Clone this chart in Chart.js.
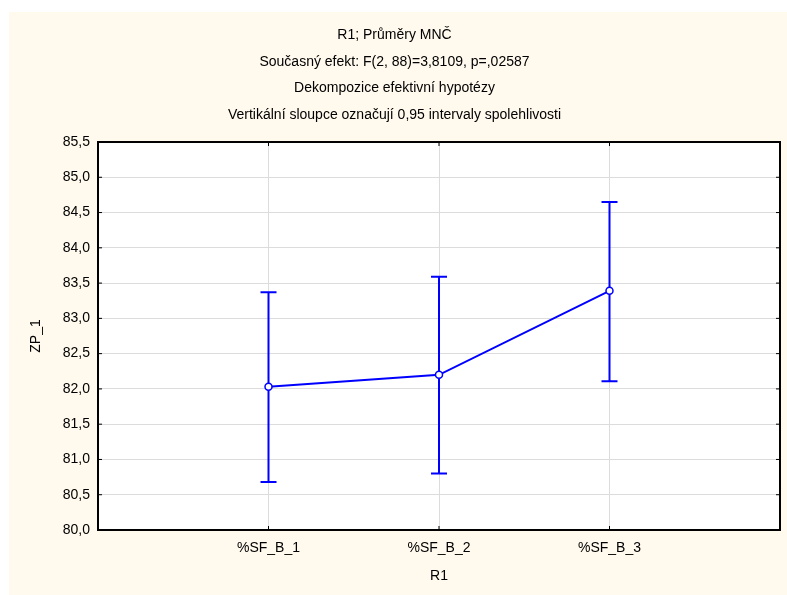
<!DOCTYPE html>
<html>
<head>
<meta charset="utf-8">
<script src="https://cdn.jsdelivr.net/npm/chart.js@4/dist/chart.umd.min.js"></script>
<style>
  html, body { margin: 0; padding: 0; background: #fff; }
  #wrap { width: 787px; height: 595px; }
</style>
</head>
<body>
<div id="wrap"><canvas id="myChart" width="787" height="595"></canvas></div>
<script>
const CATEGORIES = ['%SF_B_1', '%SF_B_2', '%SF_B_3'];
const MEANS = [82.03, 82.20, 83.39];
const UPPER = [83.37, 83.59, 84.65];
const LOWER = [80.68, 80.80, 82.11];
const TITLE_LINES = [
  'R1; Průměry MNČ',
  'Současný efekt: F(2, 88)=3,8109, p=,02587',
  'Dekompozice efektivní hypotézy',
  'Vertikální sloupce označují 0,95 intervaly spolehlivosti',
];

const BLUE = '#0000FF';
const FONT = 'Liberation Sans';

const fmt = (v) => v.toFixed(1).replace('.', ',');

// cream frame behind everything
const background = {
  id: 'background',
  beforeDraw(chart) {
    const { ctx } = chart;
    ctx.save();
    ctx.fillStyle = '#FFF9EE';
    ctx.fillRect(9, 12, chart.width - 9, chart.height - 12);
    const a = chart.chartArea;
    ctx.fillStyle = '#FFFFFF';
    ctx.fillRect(a.left, a.top, a.right - a.left, a.bottom - a.top);
    ctx.restore();
  },
};

// confidence interval whiskers
const errorBars = {
  id: 'errorBars',
  beforeDatasetsDraw(chart) {
    const { ctx } = chart;
    const xs = chart.scales.x;
    const ys = chart.scales.y;
    ctx.save();
    ctx.strokeStyle = BLUE;
    ctx.lineWidth = 2;
    CATEGORIES.forEach((c, i) => {
      const x = xs.getPixelForValue(i + 1);
      const yTop = ys.getPixelForValue(UPPER[i]);
      const yBot = ys.getPixelForValue(LOWER[i]);
      ctx.beginPath();
      ctx.moveTo(x, yTop);
      ctx.lineTo(x, yBot);
      ctx.moveTo(x - 8, yTop);
      ctx.lineTo(x + 8, yTop);
      ctx.moveTo(x - 8, yBot);
      ctx.lineTo(x + 8, yBot);
      ctx.stroke();
    });
    ctx.restore();
  },
};

// frame + small inward ticks
const frame = {
  id: 'frame',
  afterDraw(chart) {
    const { ctx } = chart;
    const a = chart.chartArea;
    ctx.save();
    ctx.strokeStyle = '#000';
    ctx.lineWidth = 1;
    chart.scales.y.ticks.forEach((t) => {
      const y = chart.scales.y.getPixelForValue(t.value);
      ctx.beginPath();
      ctx.moveTo(a.left, y); ctx.lineTo(a.left + 4, y);
      ctx.moveTo(a.right, y); ctx.lineTo(a.right - 4, y);
      ctx.stroke();
    });
    chart.scales.x.ticks.forEach((t) => {
      const x = chart.scales.x.getPixelForValue(t.value);
      ctx.beginPath();
      ctx.moveTo(x, a.bottom); ctx.lineTo(x, a.bottom - 4);
      ctx.moveTo(x, a.top); ctx.lineTo(x, a.top + 4);
      ctx.stroke();
    });
    ctx.lineWidth = 2;
    ctx.strokeRect(a.left, a.top, a.right - a.left, a.bottom - a.top);
    ctx.restore();
  },
};

Chart.defaults.font.family = FONT;
Chart.defaults.color = '#000';

const ctx = document.getElementById('myChart');

const myChart = new Chart(ctx, {
  type: 'line',
  data: {
    datasets: [{
      label: 'ZP_1',
      data: MEANS.map((m, i) => ({ x: i + 1, y: m })),
      borderColor: BLUE,
      borderWidth: 2,
      pointRadius: 3.5,
      pointBorderWidth: 1.5,
      pointBackgroundColor: '#FFFFFF',
      pointBorderColor: BLUE,
      tension: 0,
    }],
  },
  options: {
    responsive: false,
    animation: false,
    layout: {
      padding: { left: 9, right: 7, top: 0, bottom: 0 },
    },
    plugins: {
      legend: { display: false },
      tooltip: { enabled: false },
      title: {
        display: true,
        text: TITLE_LINES,
        color: '#000',
        font: { family: FONT, size: 14, weight: 'normal', lineHeight: 1.893 },
        padding: { top: 22, bottom: 14 },
      },
    },
    scales: {
      x: {
        type: 'linear',
        min: 0,
        max: 4,
        afterBuildTicks(scale) {
          scale.ticks = CATEGORIES.map((c, i) => ({ value: i + 1 }));
        },
        afterFit(scale) { scale.height = 65; },
        ticks: {
          callback: (v) => CATEGORIES[v - 1] ?? '',
          font: { size: 14 },
          padding: 10,
          maxRotation: 0,
        },
        grid: { color: '#DCDCDC', lineWidth: 1, drawTicks: false },
        border: { display: false },
        title: {
          display: true,
          text: 'R1',
          font: { size: 14 },
          padding: { top: 0, bottom: 10 },
        },
      },
      y: {
        min: 80,
        max: 85.5,
        afterFit(scale) { scale.width = 89; },
        ticks: {
          stepSize: 0.5,
          callback: (v) => fmt(v),
          font: { size: 14 },
          padding: 8,
        },
        grid: { color: '#DCDCDC', lineWidth: 1, drawTicks: false },
        border: { display: false },
        title: {
          display: true,
          text: 'ZP_1',
          font: { size: 14 },
          padding: { top: 19, bottom: 0 },
        },
      },
    },
  },
  plugins: [background, errorBars, frame],
});
</script>
</body>
</html>
